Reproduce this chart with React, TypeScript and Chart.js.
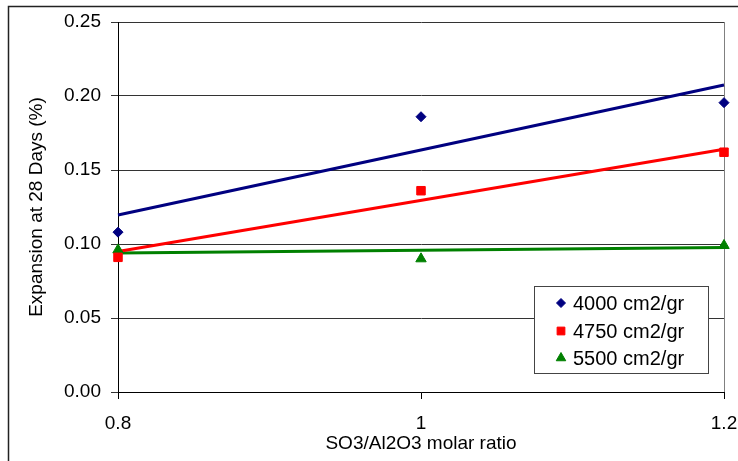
import React, { useEffect, useRef } from "react";
import { Chart, registerables } from "chart.js";
import { drawPoint } from "chart.js/helpers";

Chart.register(...registerables);

// ---- data ----
const xValues = [0.8, 1.0, 1.2];
const seriesLabels = ["4000 cm2/gr", "4750 cm2/gr", "5500 cm2/gr"];
const values4000 = [0.108, 0.186, 0.1955];
const values4750 = [0.091, 0.136, 0.162];
const values5500 = [0.096, 0.09, 0.099];
const trendX = [0.8, 1.2];
const trend4000 = [0.1196, 0.2074];
const trend4750 = [0.095, 0.164];
const trend5500 = [0.094, 0.0977];
const yTicks = [0, 0.05, 0.1, 0.15, 0.2, 0.25];
const xTicks = [0.8, 1.0, 1.2];
const xTickLabels = ["0.8", "1", "1.2"];
const xTitle = "SO3/Al2O3 molar ratio";
const yTitle = "Expansion at 28 Days (%)";

const FONT = "'Liberation Sans', Arial, sans-serif";
const colors = ["#000080", "#FF0000", "#008000"];
const styles = ["rectRot", "rect", "triangle"];
const radii = [5, 6, 6];

const toPts = (xs: number[], ys: number[]) => xs.map((x, i) => ({ x, y: ys[i] }));

const plugin = {
  id: "decor",
  beforeDraw(chart: any) {
    const ctx = chart.ctx;
    ctx.save();
    ctx.fillStyle = "#fff";
    ctx.fillRect(0, 0, chart.width, chart.height);
    ctx.restore();
  },
  beforeDatasetsDraw(chart: any) {
    const ctx = chart.ctx;
    const { right, top, bottom } = chart.chartArea;
    ctx.save();
    ctx.strokeStyle = "#808080";
    ctx.lineWidth = 1;
    ctx.beginPath();
    const x = Math.round(right) + 0.5;
    ctx.moveTo(x, top);
    ctx.lineTo(x, bottom);
    ctx.stroke();
    ctx.restore();
  },
  afterDraw(chart: any) {
    const ctx = chart.ctx;
    ctx.save();
    // outer frame
    ctx.strokeStyle = "#222";
    ctx.lineWidth = 1.5;
    ctx.strokeRect(8.5, 6.5, 900, 600);
    // legend
    ctx.fillStyle = "#fff";
    ctx.fillRect(534, 286, 174, 87);
    ctx.strokeStyle = "#444";
    ctx.lineWidth = 1;
    ctx.strokeRect(534.5, 286.5, 174, 87);
    const rows = [303, 331, 358];
    seriesLabels.forEach((lab, i) => {
      ctx.fillStyle = colors[i];
      ctx.strokeStyle = colors[i];
      drawPoint(ctx, { pointStyle: styles[i], radius: radii[i] - 0.5, rotation: 0, borderWidth: 1 } as any, 561, rows[i]);
      ctx.fillStyle = "#000";
      ctx.font = `20px ${FONT}`;
      ctx.textBaseline = "middle";
      ctx.textAlign = "left";
      ctx.fillText(lab, 573, rows[i] + 1);
    });
    ctx.restore();
  },
};

export default function App() {
  const ref = useRef<HTMLCanvasElement>(null);
  useEffect(() => {
    if (!ref.current) return;
    const seriesVals = [values4000, values4750, values5500];
    const trends = [trend4000, trend4750, trend5500];
    const lineSets = trends.map((t, i) => ({
      label: seriesLabels[i] + " trend",
      data: toPts(trendX, t),
      showLine: true,
      borderColor: colors[i],
      borderWidth: 3,
      pointRadius: 0,
      fill: false,
      clip: false,
      order: 2,
    }));
    const pointSets = seriesVals.map((v, i) => ({
      label: seriesLabels[i],
      data: toPts(xValues, v),
      showLine: false,
      pointStyle: styles[i],
      pointRadius: radii[i],
      backgroundColor: colors[i],
      borderColor: colors[i],
      borderWidth: 1,
      clip: false,
      order: 1,
    }));
    const chart = new Chart(ref.current, {
      type: "scatter",
      data: { datasets: [...lineSets, ...pointSets] as any },
      options: {
        animation: false,
        responsive: false,
        devicePixelRatio: 1,
        layout: { padding: { top: 22, right: 14, bottom: 0, left: 0 } },
        plugins: { legend: { display: false }, tooltip: { enabled: false } },
        scales: {
          x: {
            type: "linear",
            min: 0.8,
            max: 1.2,
            afterBuildTicks: (s: any) => {
              s.ticks = xTicks.map((v) => ({ value: v }));
            },
            afterFit: (s: any) => {
              s.height = 69;
              s.paddingLeft = 0;
              s.paddingRight = 0;
            },
            grid: { drawOnChartArea: false, color: "#000", tickLength: 7 },
            border: { color: "#000" },
            ticks: {
              color: "#000",
              font: { family: FONT, size: 19 },
              padding: 13,
              maxRotation: 0,
              autoSkip: false,
              callback: (v: any) => {
                const idx = xTicks.findIndex((t) => Math.abs(t - v) < 1e-9);
                return idx >= 0 ? xTickLabels[idx] : "";
              },
            },
            title: {
              display: true,
              text: xTitle,
              color: "#000",
              font: { family: FONT, size: 19 },
              padding: { top: 0, bottom: 6 },
            },
          },
          y: {
            type: "linear",
            min: 0,
            max: 0.25,
            afterBuildTicks: (s: any) => {
              s.ticks = yTicks.map((v) => ({ value: v }));
            },
            afterFit: (s: any) => {
              s.width = 118;
              s.paddingTop = 0;
              s.paddingBottom = 0;
            },
            grid: { color: "#333", tickLength: 7 },
            border: { color: "#000" },
            ticks: {
              color: "#000",
              font: { family: FONT, size: 19 },
              padding: 10,
              callback: (v: any) => Number(v).toFixed(2),
            },
            title: {
              display: true,
              text: yTitle,
              color: "#000",
              font: { family: FONT, size: 19 },
              padding: { top: 25, bottom: 0 },
            },
          },
        },
      },
      plugins: [plugin as any],
    });
    return () => chart.destroy();
  }, []);
  return (
    <div style={{ position: "absolute", left: 0, top: 0, width: 738, height: 461 }}>
      <canvas ref={ref} width={738} height={461} style={{ display: "block", width: 738, height: 461 }} />
    </div>
  );
}
